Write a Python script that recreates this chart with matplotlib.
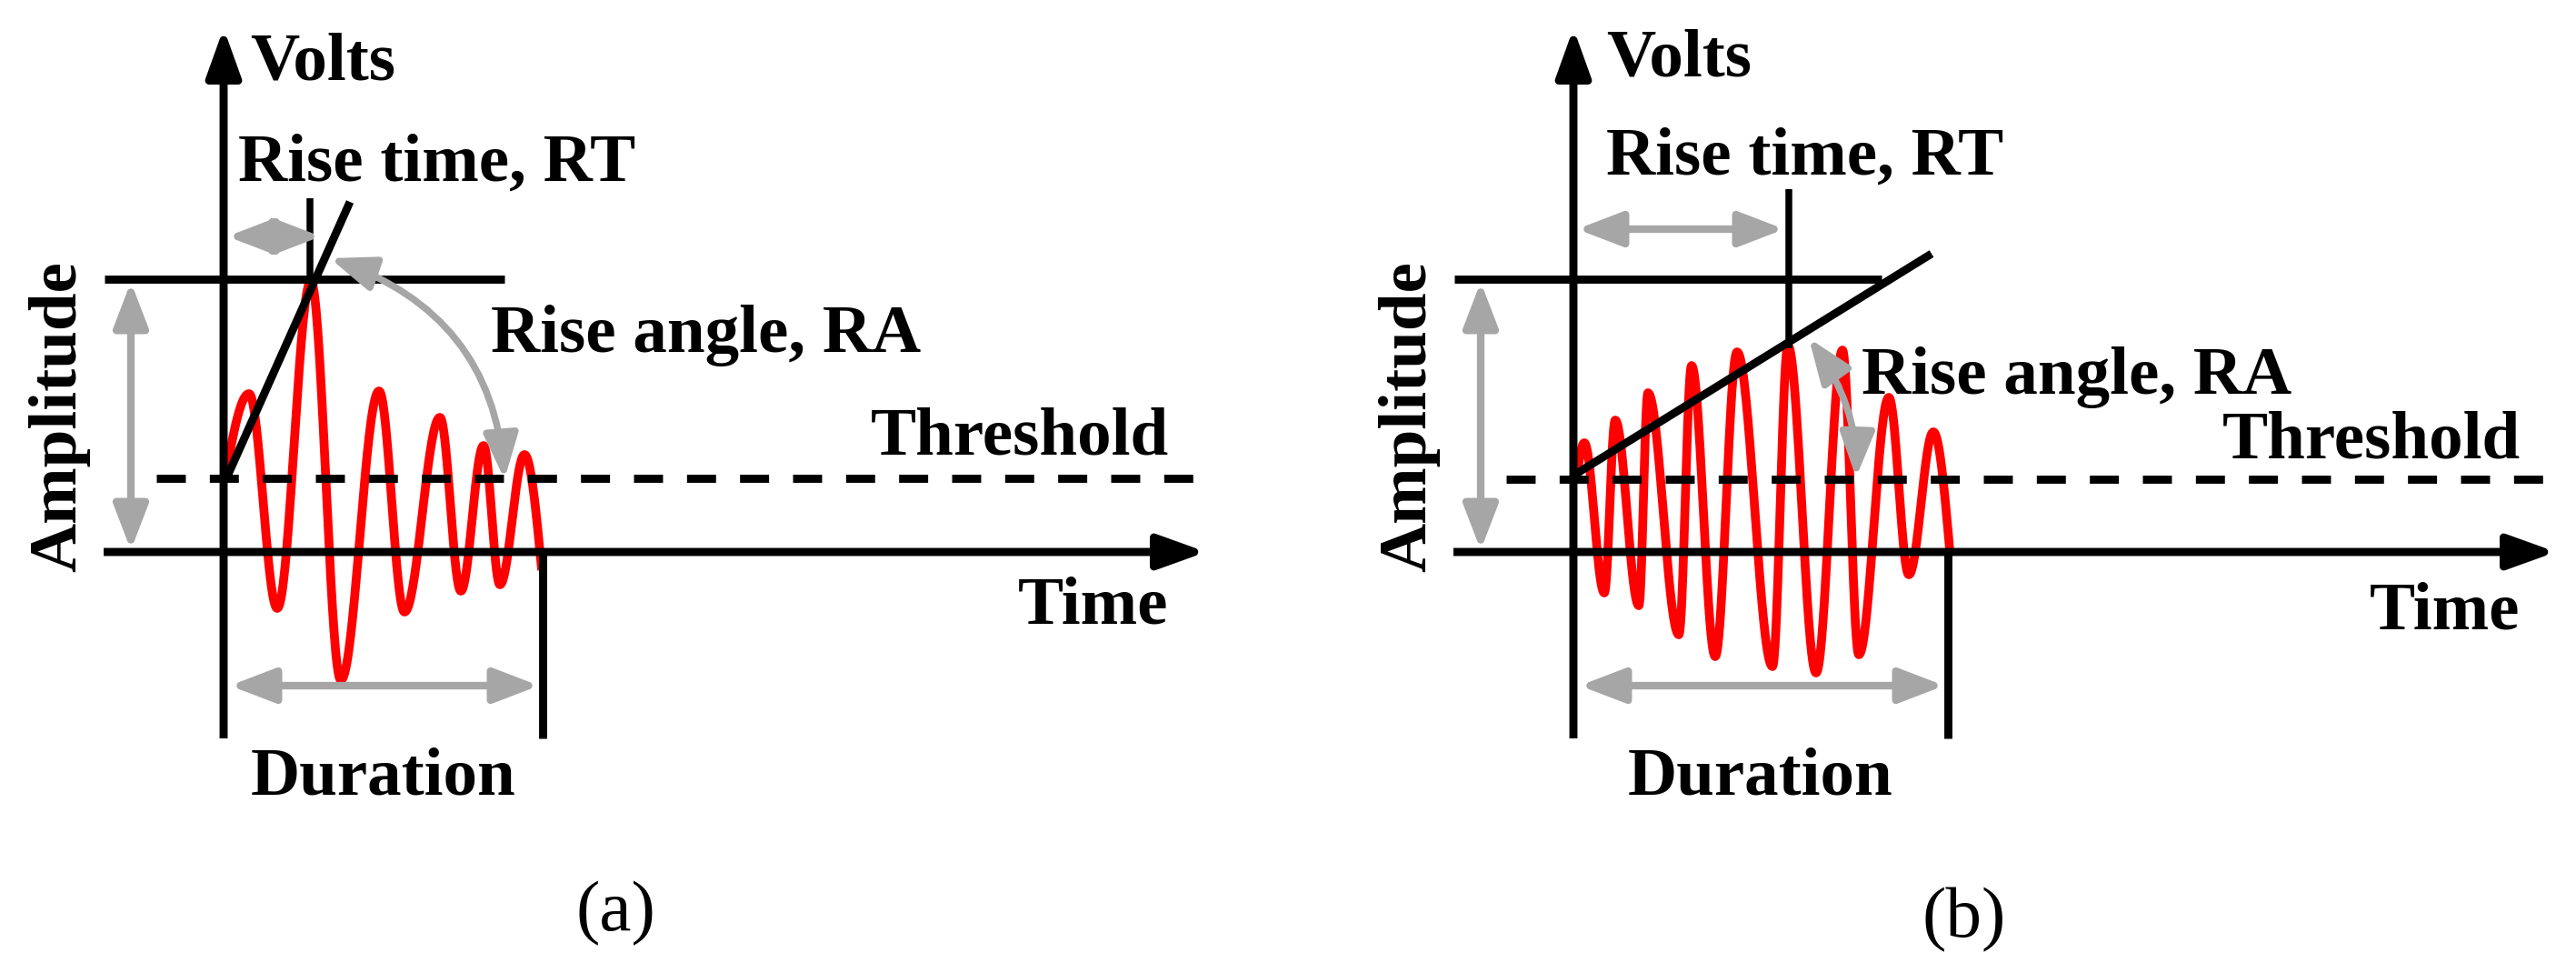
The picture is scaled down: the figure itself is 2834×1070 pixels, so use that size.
#!/usr/bin/env python3
"""
Acoustic-emission hit parameters: two schematic bursts (fast rise / slow rise)
with amplitude, threshold, rise time, rise angle and duration marked.

Both panels use pixel-sized data units (time to the right, volts upward),
with the origin where the two black axes cross.
"""
import matplotlib.pyplot as plt
import numpy as np
from matplotlib.patches import FancyArrowPatch
from matplotlib.path import Path

plt.rcParams["font.family"] = ["Liberation Serif", "DejaVu Serif"]
plt.rcParams["lines.scale_dashes"] = False

# ---- burst extrema (time, volts) -------------------------------------------
A_EXT_T = [2, 28, 59, 96, 129, 171, 199, 238, 261, 286, 304, 331, 350]
A_EXT_V = [83, 174, -62, 298, -141, 177, -66, 148, -43, 117, -36, 107, -20]

B_EXT_T = [3, 12, 34, 46, 72, 82, 116, 130, 156, 180, 219, 236, 267, 296,
           314, 347, 369, 396, 414]
B_EXT_V = [77, 120, -45, 145, -59, 175, -91, 205, -115, 220, -126, 227, -133,
           222, -113, 170, -25, 132, 2]

# ---- hit parameters per panel ---------------------------------------------
PANEL_LABELS = ["(a)", "(b)"]
THRESHOLD = [81, 80]
AMPLITUDE = [300, 300]
RISE_TIME = [95, 237]
DURATION = [351, 412]
RISE_LINE_T = [(4, 139), (3, 394)]
RISE_LINE_V = [(83, 385), (86, 328)]
TOP_LINE_END = [309, 339]

BLACK = "black"
GRAY = "#a6a6a6"
RED = "#ff0000"
LW = 6.4          # black strokes, points
GRAY_HEAD = "<|-|>,head_length=30,head_width=11.5"


def burst(ts, vs, n=40):
    """Smooth oscillation through the read extrema (half-cosine arcs)."""
    t_out, v_out = [], []
    last = len(ts) - 2
    for i in range(len(ts) - 1):
        s = np.linspace(0, 1, n)
        if i == 0:
            w = np.sin(s * np.pi / 2)
        elif i == last:
            w = 1 - np.cos(s * np.pi / 2)
        else:
            w = (1 - np.cos(s * np.pi)) / 2
        t_out.append(ts[i] + (ts[i + 1] - ts[i]) * s)
        v_out.append(vs[i] + (vs[i + 1] - vs[i]) * w)
    return np.concatenate(t_out), np.concatenate(v_out)


def gray_arrow(ax, p0, p1):
    ax.add_patch(FancyArrowPatch(
        p0, p1, arrowstyle=GRAY_HEAD, mutation_scale=1, color=GRAY, lw=6.0,
        shrinkA=0, shrinkB=0, clip_on=False, zorder=4))


def axis_arrow(ax, p0, p1):
    ax.add_patch(FancyArrowPatch(
        p0, p1, arrowstyle="-|>,head_length=32,head_width=11.5",
        mutation_scale=1, color=BLACK, lw=LW, shrinkA=0, shrinkB=0,
        clip_on=False, zorder=3, capstyle="butt"))


def line(ax, ts, vs, lw=LW):
    ax.plot(ts, vs, color=BLACK, lw=lw, solid_capstyle="butt",
            clip_on=False, zorder=3)


def draw_panel(ax, k, ext_t, ext_v, tx):
    thr, amp, rt, dur = THRESHOLD[k], AMPLITUDE[k], RISE_TIME[k], DURATION[k]

    # red burst
    t, v = burst(ext_t, ext_v)
    ax.plot(t, v, color=RED, lw=7.0, solid_capstyle="butt", zorder=2,
            clip_on=False)

    # axes with arrowheads
    axis_arrow(ax, (0, -205), (0, 576))
    axis_arrow(ax, (-132, 0), (1081, 0))

    # amplitude level, threshold, rise time / duration markers
    line(ax, [-131, TOP_LINE_END[k]], [amp, amp])
    ax.plot([-74, 1067], [thr, thr], color=BLACK, lw=LW,
            dashes=(23, 19), dash_capstyle="butt", clip_on=False, zorder=3)
    line(ax, [rt, rt], tx["rt_line_v"], lw=5.4)
    line(ax, [dur, dur], [0, -205])
    line(ax, RISE_LINE_T[k], RISE_LINE_V[k])

    # gray dimension arrows
    gray_arrow(ax, (-102, amp - 3), (-102, 2))
    gray_arrow(ax, (7, -147), (dur - 4, -147))
    gray_arrow(ax, (4, tx["rt_arrow_v"]),
               (rt + tx["rt_arrow_dt"], tx["rt_arrow_v"]))

    a, c, b = tx["arc"]
    arc = Path([a, c, b], [Path.MOVETO, Path.CURVE3, Path.CURVE3])
    ax.add_patch(FancyArrowPatch(
        path=arc, arrowstyle=GRAY_HEAD, mutation_scale=1, color=GRAY,
        lw=5.4, clip_on=False, zorder=4))

    # labels
    bold = dict(fontsize=54, fontweight="bold", va="baseline")
    ax.text(*tx["volts"], "Volts", ha="left", **bold)
    ax.text(*tx["rise_time"], "Rise time, RT", ha="left", **bold)
    ax.text(*tx["rise_angle"], "Rise angle, RA", ha="left", **bold)
    ax.text(*tx["threshold"], "Threshold", ha="left", **bold)
    ax.text(*tx["time"], "Time", ha="left", **bold)
    ax.text(dur / 2, -266, "Duration", ha="center", **bold)
    ax.text(-163, 149, "Amplitude", ha="center", rotation=90,
            rotation_mode="anchor", **bold)
    ax.text(*tx["label"], PANEL_LABELS[k], ha="center", va="center",
            fontsize=57)


def main() -> None:
    fig = plt.figure(figsize=(28.34, 10.70), dpi=100)
    ax_a = fig.add_axes([0, 0, 0.5, 1])
    ax_b = fig.add_axes([0.5, 0, 0.5, 1])
    # 1 data unit = 1 pixel, origin at the axis crossing of each panel
    ax_a.set_xlim(-246, 1171)
    ax_b.set_xlim(-314, 1103)
    for ax in (ax_a, ax_b):
        ax.set_ylim(-463, 607)
        ax.axis("off")

    text_a = dict(volts=(29, 519), rise_time=(16, 408), rise_angle=(294, 220),
                  threshold=(712, 107), time=(874, -78), label=(431, -398),
                  rt_line_v=[AMPLITUDE[0], 389],
                  rt_arrow_v=347, rt_arrow_dt=12,
                  arc=[(117, 323), (295, 261), (309, 80)])
    text_b = dict(volts=(36, 523), rise_time=(36, 415), rise_angle=(317, 174),
                  threshold=(714, 104), time=(876, -85), label=(430, -405),
                  rt_line_v=[224, 399],
                  rt_arrow_v=355, rt_arrow_dt=-5,
                  arc=[(259, 235), (313, 160), (311, 82)])

    draw_panel(ax_a, 0, A_EXT_T, A_EXT_V, text_a)
    draw_panel(ax_b, 1, B_EXT_T, B_EXT_V, text_b)

    fig.savefig("out.png", dpi=100, facecolor="white")
    plt.close(fig)


if __name__ == "__main__":
    main()
